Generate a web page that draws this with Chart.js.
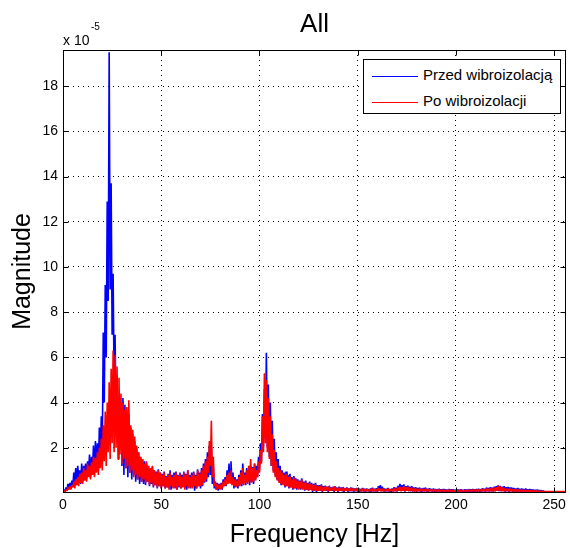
<!DOCTYPE html>
<html>
<head>
<meta charset="utf-8">
<script src="https://cdn.jsdelivr.net/npm/chart.js@4.4.1/dist/chart.umd.min.js"></script>
<style>
  body { margin: 0; background: #fff; }
  #wrap { position: relative; width: 570px; height: 548px; font-family: "Liberation Sans", Arial, sans-serif; color: #000; }
  #exp { position: absolute; left: 63px; top: 33px; font-size: 14px; line-height: 14px; }
  #expPow { position: absolute; left: 91px; top: 22px; font-size: 10px; line-height: 10px; }
  #legend { position: absolute; left: 363px; top: 59px; width: 196px; height: 53px; border: 1px solid #000; background: #fff; font-size: 15px; }
  #legend .row { position: absolute; left: 8px; height: 18px; line-height: 18px; white-space: nowrap; }
  #legend .line { display: inline-block; width: 46px; height: 1px; vertical-align: middle; margin-right: 5px; }
</style>
</head>
<body>
<div id="wrap">
  <canvas id="fft_chart" width="570" height="548"></canvas>
  <div id="exp">x 10</div>
  <div id="expPow">-5</div>
  <div id="legend">
    <div class="row" style="top:6px"><span class="line" style="background:#0000ff"></span>Przed wibroizolacją</div>
    <div class="row" style="top:32px"><span class="line" style="background:#ff0000"></span>Po wibroizolacji</div>
  </div>
</div>
<script>
// magnitude values in units of 1e-5, one value per 0.5 Hz bin (0 .. 256 Hz)
const przed = [
  0, 0.15, 0.05, 0.25, 0.1, 0.4, 0.2, 0.45, 0.2, 0.55, 0.3, 0.9, 0.5, 1.1, 0.35, 1.2, 0.6, 1.0, 0.4, 1.3,
  0.5, 1.2, 0.7, 1.3, 0.6, 1.4, 0.9, 1.7, 0.7, 1.6, 1.0, 2.1, 0.8, 2.3, 1.2, 2.2, 1.0, 2.9, 1.5, 3.4,
  2.0, 7.1, 4.0, 9.2, 6.0, 12.9, 8.5, 19.5, 9.0, 13.7, 7.0, 9.7, 5.0, 7.0, 3.5, 5.2, 2.5, 4.3, 2.0, 4.0,
  1.2, 4.2, 0.8, 3.9, 1.1, 3.6, 0.7, 3.5, 0.9, 2.9, 0.6, 2.6, 0.8, 2.3, 0.5, 2.0, 0.6, 1.8, 0.4, 1.6,
  0.5, 1.5, 0.4, 1.4, 0.35, 1.3, 0.5, 1.2, 0.3, 1.1, 0.4, 1.15, 0.25, 1.0, 0.35, 0.95, 0.2, 1.05, 0.3, 0.9,
  0.2, 0.85, 0.3, 0.95, 0.2, 0.75, 0.25, 0.85, 0.2, 1.0, 0.15, 0.8, 0.3, 0.9, 0.2, 0.95, 0.15, 0.8, 0.25, 0.9,
  0.2, 0.8, 0.3, 0.95, 0.2, 0.85, 0.15, 1.0, 0.25, 0.8, 0.2, 0.9, 0.3, 0.95, 0.1, 0.8, 0.2, 1.05, 0.3, 0.9,
  0.2, 1.1, 0.3, 1.3, 0.45, 1.5, 0.5, 1.8, 0.7, 2.1, 0.8, 2.0, 0.4, 1.2, 0.2, 0.5, 0.15, 0.45, 0.1, 0.4,
  0.2, 0.45, 0.15, 0.6, 0.3, 0.7, 0.3, 1.0, 0.5, 1.3, 0.5, 1.4, 0.4, 0.9, 0.2, 0.7, 0.3, 0.6, 0.2, 0.8,
  0.35, 1.0, 0.3, 1.3, 0.45, 0.9, 0.35, 1.1, 0.5, 1.0, 0.35, 1.2, 0.5, 1.15, 0.4, 1.3, 0.6, 1.2, 0.7, 1.6,
  1.0, 2.2, 1.4, 3.5, 2.0, 4.6, 2.4, 6.2, 2.0, 4.8, 1.6, 4.0, 1.2, 3.2, 1.0, 2.4, 0.8, 1.8, 0.6, 1.5,
  0.5, 1.2, 0.35, 1.0, 0.4, 0.9, 0.25, 0.95, 0.3, 0.8, 0.2, 0.85, 0.25, 0.7, 0.15, 0.75, 0.2, 0.65, 0.15, 0.6,
  0.2, 0.55, 0.15, 0.65, 0.2, 0.5, 0.1, 0.55, 0.15, 0.45, 0.1, 0.5, 0.15, 0.45, 0.05, 0.4, 0.1, 0.45, 0.05, 0.35,
  0.1, 0.35, 0.1, 0.38, 0.05, 0.3, 0.1, 0.33, 0.1, 0.28, 0.05, 0.32, 0.1, 0.25, 0.1, 0.28, 0.05, 0.3, 0.1, 0.24,
  0.05, 0.28, 0.1, 0.24, 0.1, 0.27, 0.05, 0.22, 0.1, 0.25, 0.05, 0.2, 0.08, 0.24, 0.08, 0.22, 0.05, 0.2, 0.08, 0.22,
  0.05, 0.2, 0.06, 0.18, 0.08, 0.22, 0.07, 0.19, 0.05, 0.2, 0.08, 0.17, 0.05, 0.2, 0.06, 0.23, 0.08, 0.19, 0.07, 0.21,
  0.05, 0.3, 0.1, 0.35, 0.08, 0.28, 0.07, 0.2, 0.05, 0.19, 0.08, 0.22, 0.05, 0.18, 0.06, 0.2, 0.08, 0.26, 0.07, 0.24,
  0.06, 0.32, 0.1, 0.4, 0.08, 0.35, 0.1, 0.38, 0.06, 0.3, 0.1, 0.33, 0.08, 0.28, 0.07, 0.3, 0.06, 0.25, 0.08, 0.26,
  0.05, 0.22, 0.08, 0.24, 0.05, 0.2, 0.06, 0.22, 0.08, 0.24, 0.06, 0.19, 0.05, 0.21, 0.08, 0.18, 0.05, 0.2, 0.06, 0.18,
  0.05, 0.17, 0.07, 0.19, 0.04, 0.16, 0.05, 0.18, 0.06, 0.17, 0.05, 0.15, 0.04, 0.18, 0.06, 0.16, 0.04, 0.17, 0.05, 0.15,
  0.04, 0.16, 0.06, 0.15, 0.04, 0.17, 0.05, 0.14, 0.06, 0.16, 0.05, 0.15, 0.04, 0.17, 0.06, 0.16, 0.04, 0.18, 0.05, 0.17,
  0.05, 0.18, 0.07, 0.19, 0.05, 0.17, 0.06, 0.21, 0.08, 0.19, 0.06, 0.24, 0.08, 0.22, 0.06, 0.26, 0.08, 0.24, 0.06, 0.28,
  0.08, 0.3, 0.1, 0.34, 0.08, 0.31, 0.07, 0.28, 0.09, 0.3, 0.05, 0.26, 0.08, 0.27, 0.05, 0.25, 0.07, 0.24, 0.05, 0.22,
  0.06, 0.2, 0.04, 0.22, 0.06, 0.19, 0.04, 0.2, 0.06, 0.18, 0.04, 0.2, 0.05, 0.17, 0.04, 0.18, 0.06, 0.16, 0.04, 0.15,
  0.05, 0.14, 0.05, 0.15, 0.04, 0.13, 0.05, 0.12, 0.04, 0.1, 0.04, 0.05, 0.04, 0.05, 0.04, 0.05, 0.04, 0.05, 0.04, 0.05,
  0.04, 0.05, 0.04, 0.05, 0.04, 0.05, 0.04, 0.05, 0.04, 0.05, 0.04, 0.05, 0.04
];
const po = [
  0, 0.1, 0.05, 0.15, 0.1, 0.25, 0.15, 0.3, 0.15, 0.35, 0.25, 0.5, 0.2, 0.6, 0.35, 0.7, 0.3, 0.85, 0.45, 0.9,
  0.4, 1.1, 0.55, 1.0, 0.5, 1.3, 0.7, 1.2, 0.6, 1.35, 0.8, 1.6, 0.7, 1.55, 0.9, 1.8, 0.8, 2.0, 1.1, 2.4,
  1.0, 3.0, 1.4, 3.6, 1.2, 4.0, 1.8, 4.9, 1.5, 5.5, 2.2, 6.3, 1.8, 6.1, 2.0, 5.6, 1.5, 5.1, 1.7, 4.4,
  1.3, 4.0, 1.5, 3.7, 1.1, 3.8, 1.2, 4.1, 0.9, 3.0, 1.0, 2.8, 0.7, 2.5, 0.8, 2.1, 0.6, 1.8, 0.7, 1.6,
  0.5, 1.5, 0.6, 1.3, 0.45, 1.4, 0.5, 1.2, 0.35, 1.1, 0.45, 1.2, 0.3, 1.0, 0.35, 0.9, 0.25, 1.0, 0.3, 0.9,
  0.2, 0.8, 0.3, 0.9, 0.2, 0.7, 0.25, 0.8, 0.15, 0.9, 0.3, 0.7, 0.2, 0.8, 0.25, 0.9, 0.15, 0.75, 0.3, 0.85,
  0.2, 0.7, 0.25, 0.9, 0.15, 0.8, 0.3, 1.0, 0.2, 0.7, 0.25, 0.8, 0.2, 0.9, 0.3, 0.75, 0.2, 1.0, 0.3, 0.85,
  0.3, 1.0, 0.35, 1.2, 0.5, 1.4, 0.6, 1.6, 0.9, 2.3, 1.2, 3.2, 0.7, 1.6, 0.3, 0.5, 0.15, 0.4, 0.2, 0.35,
  0.15, 0.4, 0.2, 0.5, 0.3, 0.6, 0.35, 0.8, 0.4, 0.9, 0.45, 1.0, 0.35, 0.7, 0.3, 0.6, 0.25, 0.55, 0.3, 0.7,
  0.3, 0.9, 0.4, 1.1, 0.35, 0.8, 0.45, 1.0, 0.4, 1.2, 0.5, 1.5, 0.45, 1.1, 0.5, 1.3, 0.55, 1.0, 0.7, 1.4,
  0.9, 1.9, 1.3, 3.4, 1.8, 5.3, 2.2, 5.0, 1.8, 4.2, 1.5, 3.4, 1.2, 2.6, 0.9, 1.9, 0.7, 1.4, 0.55, 1.1,
  0.45, 1.0, 0.4, 0.9, 0.35, 0.8, 0.3, 0.85, 0.3, 0.7, 0.25, 0.75, 0.25, 0.6, 0.2, 0.7, 0.2, 0.6, 0.2, 0.55,
  0.15, 0.5, 0.2, 0.6, 0.15, 0.45, 0.15, 0.5, 0.15, 0.4, 0.1, 0.45, 0.15, 0.4, 0.1, 0.35, 0.12, 0.4, 0.1, 0.3,
  0.1, 0.3, 0.12, 0.35, 0.08, 0.25, 0.1, 0.3, 0.12, 0.25, 0.08, 0.3, 0.1, 0.2, 0.12, 0.25, 0.08, 0.3, 0.1, 0.2,
  0.08, 0.25, 0.1, 0.2, 0.12, 0.25, 0.08, 0.2, 0.1, 0.22, 0.08, 0.18, 0.1, 0.22, 0.1, 0.2, 0.08, 0.18, 0.1, 0.2,
  0.07, 0.18, 0.09, 0.15, 0.07, 0.2, 0.09, 0.16, 0.07, 0.18, 0.09, 0.14, 0.07, 0.17, 0.09, 0.2, 0.07, 0.16, 0.09, 0.18,
  0.07, 0.22, 0.09, 0.18, 0.07, 0.2, 0.09, 0.15, 0.07, 0.17, 0.09, 0.2, 0.07, 0.16, 0.09, 0.18, 0.07, 0.22, 0.09, 0.2,
  0.08, 0.25, 0.1, 0.28, 0.08, 0.24, 0.1, 0.3, 0.08, 0.26, 0.1, 0.28, 0.08, 0.22, 0.1, 0.25, 0.08, 0.2, 0.07, 0.22,
  0.07, 0.18, 0.09, 0.2, 0.07, 0.16, 0.09, 0.18, 0.07, 0.2, 0.09, 0.15, 0.07, 0.17, 0.09, 0.14, 0.07, 0.16, 0.09, 0.15,
  0.07, 0.14, 0.08, 0.16, 0.06, 0.13, 0.08, 0.15, 0.06, 0.14, 0.08, 0.12, 0.06, 0.15, 0.08, 0.13, 0.06, 0.14, 0.08, 0.12,
  0.06, 0.13, 0.08, 0.12, 0.06, 0.14, 0.08, 0.11, 0.06, 0.13, 0.08, 0.12, 0.06, 0.14, 0.08, 0.13, 0.06, 0.15, 0.08, 0.14,
  0.07, 0.15, 0.06, 0.16, 0.08, 0.14, 0.07, 0.18, 0.08, 0.16, 0.07, 0.2, 0.08, 0.18, 0.07, 0.22, 0.08, 0.2, 0.07, 0.24,
  0.08, 0.26, 0.1, 0.32, 0.08, 0.28, 0.1, 0.24, 0.08, 0.22, 0.07, 0.2, 0.08, 0.18, 0.07, 0.2, 0.08, 0.17, 0.07, 0.16,
  0.07, 0.15, 0.06, 0.16, 0.07, 0.14, 0.06, 0.15, 0.07, 0.13, 0.06, 0.14, 0.07, 0.12, 0.06, 0.13, 0.07, 0.12, 0.06, 0.11,
  0.06, 0.1, 0.07, 0.11, 0.06, 0.09, 0.07, 0.08, 0.06, 0.08, 0.06, 0.07, 0.06, 0.07, 0.06, 0.07, 0.06, 0.07, 0.06, 0.07,
  0.06, 0.07, 0.06, 0.07, 0.06, 0.07, 0.06, 0.07, 0.06, 0.07, 0.06, 0.07, 0.06
];
const binWidth = 0.5; // Hz
const freqs = przed.map((v, i) => i * binWidth);

const xTicks = [0, 50, 100, 150, 200, 250];
const yTicks = [2, 4, 6, 8, 10, 12, 14, 16, 18];

const FONT = '"Liberation Sans", Arial, sans-serif';

// matlab style box with inward ticks
const axesBox = {
  id: 'axesBox',
  afterDatasetsDraw(chart) {
    const { ctx, chartArea: a, scales: { x, y } } = chart;
    const L = Math.round(a.left) + 0.5, R = Math.round(a.right) - 0.5;
    const T = Math.round(a.top) + 0.5, B = Math.round(a.bottom) - 0.5;
    ctx.save();
    ctx.strokeStyle = '#000';
    ctx.lineWidth = 1;
    ctx.strokeRect(L, T, R - L, B - T);
    ctx.beginPath();
    xTicks.forEach(v => {
      const px = Math.round(x.getPixelForValue(v)) + 0.5;
      ctx.moveTo(px, B); ctx.lineTo(px, B - 5);
      ctx.moveTo(px, T); ctx.lineTo(px, T + 5);
    });
    yTicks.forEach(v => {
      const py = Math.round(y.getPixelForValue(v)) + 0.5;
      ctx.moveTo(L, py); ctx.lineTo(L + 5, py);
      ctx.moveTo(R, py); ctx.lineTo(R - 5, py);
    });
    ctx.stroke();
    ctx.restore();
  }
};

const ctx = document.getElementById('fft_chart').getContext('2d');
const my_chart = new Chart(ctx, {
  type: 'line',
  data: {
    labels: freqs,
    datasets: [
      { label: 'Przed wibroizolacją', data: przed, borderColor: '#0000ff', borderWidth: 1.6, borderJoinStyle: 'bevel', pointRadius: 0, tension: 0, order: 1 },
      { label: 'Po wibroizolacji', data: po, borderColor: '#ff0000', borderWidth: 1.6, borderJoinStyle: 'bevel', pointRadius: 0, tension: 0, order: 0 }
    ]
  },
  options: {
    responsive: false,
    animation: false,
    layout: { padding: { left: 0, right: 2, top: 0, bottom: 0 } },
    plugins: {
      legend: { display: false },
      tooltip: { enabled: false },
      title: {
        display: true, text: 'All', fullSize: false, color: '#000',
        font: { family: FONT, size: 26, weight: 'normal', lineHeight: 1 },
        padding: { top: 12, bottom: 12 }
      }
    },
    scales: {
      x: {
        type: 'linear', min: 0, max: 256,
        afterBuildTicks: s => { s.ticks = xTicks.map(v => ({ value: v })); },
        afterFit: s => { s.height = 55; },
        ticks: { color: '#000', font: { family: FONT, size: 14 }, padding: 4, maxRotation: 0, autoSkip: false },
        grid: { color: '#000', lineWidth: 1, drawTicks: false },
        border: { display: false, dash: [1, 4] },
        title: { display: true, text: 'Frequency [Hz]', color: '#000', font: { family: FONT, size: 25, lineHeight: 1 }, padding: 0 }
      },
      y: {
        min: 0, max: 19.6,
        afterBuildTicks: s => { s.ticks = yTicks.map(v => ({ value: v })); },
        afterFit: s => { s.width = 63; },
        ticks: { color: '#000', font: { family: FONT, size: 14 }, padding: 5 },
        grid: { color: '#000', lineWidth: 1, drawTicks: false },
        border: { display: false, dash: [1, 4] },
        title: { display: true, text: 'Magnitude', color: '#000', font: { family: FONT, size: 25, lineHeight: 1 }, padding: { top: 11, bottom: 0 } }
      }
    }
  },
  plugins: [axesBox]
});
</script>
</body>
</html>
